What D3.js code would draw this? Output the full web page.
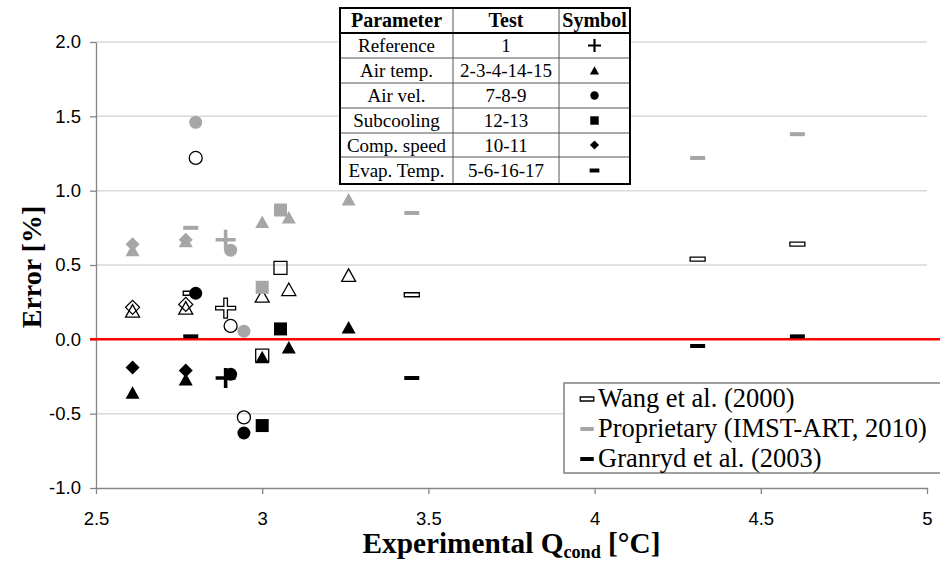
<!DOCTYPE html>
<html>
<head>
<meta charset="utf-8">
<script src="https://cdn.jsdelivr.net/npm/d3@7"></script>
<style>
  body { margin: 0; background: #fff; }
  svg { display: block; }
</style>
</head>
<body>
<div id="chart-area"></div>
<script>
// table contents
var parameters = ["Reference", "Air temp.", "Air vel.", "Subcooling", "Comp. speed", "Evap. Temp."];
var testLabels = ["1", "2-3-4-14-15", "7-8-9", "12-13", "10-11", "5-6-16-17"];
var paramSymbols = ["plus", "triangle", "circle", "square", "diamond", "dash"];

// one entry per test
var pointSymbol = ["plus",
  "triangle", "triangle", "triangle", "triangle", "triangle",
  "circle", "circle", "circle",
  "square", "square",
  "diamond", "diamond",
  "dash", "dash", "dash", "dash"];
var qcond = [2.89, 2.61, 2.77, 3.00, 3.08, 3.26, 2.80, 2.905, 2.945, 3.00, 3.055, 2.61, 2.77, 2.785, 3.45, 4.31, 4.61];
var errWang = [0.21, 0.19, 0.21, 0.29, 0.335, 0.43, 1.22, 0.09, -0.525, -0.11, 0.48, 0.215, 0.235, 0.31, 0.30, 0.54, 0.64];
var errProp = [0.67, 0.60, 0.66, 0.79, 0.82, 0.94, 1.46, 0.60, 0.055, 0.35, 0.87, 0.64, 0.67, 0.75, 0.85, 1.22, 1.38];
var errGranryd = [-0.26, -0.36, -0.27, -0.12, -0.055, 0.08, 0.31, -0.235, -0.63, -0.58, 0.07, -0.19, -0.21, 0.02, -0.26, -0.045, 0.02];

var models = ["Wang et al. (2000)", "Proprietary (IMST-ART, 2010)", "Granryd et al. (2003)"];
var xTicks = [2.5, 3, 3.5, 4, 4.5, 5];
var xTickLabels = ["2.5", "3", "3.5", "4", "4.5", "5"];
var yTicks = [-1, -0.5, 0, 0.5, 1, 1.5, 2];
var yTickLabels = ["-1.0", "-0.5", "0.0", "0.5", "1.0", "1.5", "2.0"];

var W = 940, H = 563;
var margin = {top: 42, right: 13, bottom: 75, left: 96};
var pWidth = W - margin.left - margin.right;
var pHeight = H - margin.top - margin.bottom;

var svg = d3.select("#chart-area").append("svg")
  .attr("width", W).attr("height", H);

var x = d3.scaleLinear().domain([2.5, 5]).range([margin.left, margin.left + pWidth]);
var y = d3.scaleLinear().domain([-1, 2]).range([margin.top + pHeight, margin.top]);

var serif = "'Liberation Serif', 'Times New Roman', serif";
var sans = "'Liberation Sans', Arial, sans-serif";

// marker shapes, centred on 0,0
function shape(name, s, arm) {
  var k = s || 1;
  if (name == "circle") return d3.symbol(d3.symbolCircle, Math.PI * 6.5 * 6.5 * k * k)();
  if (name == "triangle") return "M0," + (-6.5 * k) + "L" + (7 * k) + "," + (6 * k) + "L" + (-7 * k) + "," + (6 * k) + "Z";
  if (name == "square") return "M" + (-6.5 * k) + "," + (-6.5 * k) + "h" + (13 * k) + "v" + (13 * k) + "h" + (-13 * k) + "Z";
  if (name == "diamond") return "M0," + (-7 * k) + "L" + (7 * k) + ",0L0," + (7 * k) + "L" + (-7 * k) + ",0Z";
  if (name == "dash") return "M" + (-7.5 * k) + ",-2h" + (15 * k) + "v4h" + (-15 * k) + "Z";
  if (name == "plus") {
    var a = 10 * k, t = arm || 1.8;
    return "M" + (-t) + "," + (-a) + "H" + t + "V" + (-t) + "H" + a + "V" + t + "H" + t + "V" + a +
      "H" + (-t) + "V" + t + "H" + (-a) + "V" + (-t) + "H" + (-t) + "Z";
  }
}

var styles = [
  {fill: "none", stroke: "#000", sw: 1.3},
  {fill: "#a6a6a6", stroke: "none", sw: 0},
  {fill: "#000", stroke: "none", sw: 0}
];

// gridlines
svg.append("g").selectAll("line")
  .data(yTicks.slice(1))
  .enter().append("line")
    .attr("x1", margin.left).attr("x2", margin.left + pWidth)
    .attr("y1", function(d) { return y(d); }).attr("y2", function(d) { return y(d); })
    .attr("stroke", "#d9d9d9").attr("stroke-width", 1.5);

// axes
var xAxisGroup = svg.append("g")
  .attr("transform", "translate(0," + (margin.top + pHeight) + ")")
  .call(d3.axisBottom(x).tickValues(xTicks).tickSize(6).tickSizeOuter(0)
    .tickFormat(function(d, i) { return xTickLabels[i]; }));
var yAxisGroup = svg.append("g")
  .attr("transform", "translate(" + margin.left + ",0)")
  .call(d3.axisLeft(y).tickValues(yTicks).tickSize(6).tickSizeOuter(0)
    .tickFormat(function(d, i) { return yTickLabels[i]; }));

[xAxisGroup, yAxisGroup].forEach(function(g) {
  g.selectAll("path, line").attr("stroke", "#868686").attr("stroke-width", 1.3);
  g.selectAll("text").attr("font-family", sans).attr("font-size", "18.5px").attr("fill", "#000");
});
xAxisGroup.selectAll("text").attr("y", 37).attr("dy", 0);
yAxisGroup.selectAll("text").attr("x", -15);

// zero line
svg.append("line")
  .attr("x1", margin.left - 6).attr("x2", W)
  .attr("y1", y(0)).attr("y2", y(0))
  .attr("stroke", "#ff0000").attr("stroke-width", 2.5);

// points: one layer per model
[errWang, errProp, errGranryd].forEach(function(errs, m) {
  svg.append("g").selectAll("path")
    .data(errs)
    .enter().append("path")
      .attr("d", function(d, i) { return shape(pointSymbol[i]); })
      .attr("transform", function(d, i) { return "translate(" + x(qcond[i]) + "," + y(d) + ")"; })
      .attr("fill", function(d, i) { return (m == 0 && pointSymbol[i] == "dash") ? "#fff" : styles[m].fill; })
      .attr("stroke", styles[m].stroke)
      .attr("stroke-width", styles[m].sw);
});

// axis titles
svg.append("text")
  .attr("transform", "translate(41,267) rotate(-90)")
  .attr("text-anchor", "middle")
  .attr("font-family", serif).attr("font-weight", "bold").attr("font-size", "28px")
  .text("Error [%]");

var xTitle = svg.append("text")
  .attr("x", margin.left + pWidth / 2).attr("y", 553)
  .attr("text-anchor", "middle")
  .attr("textLength", 298).attr("lengthAdjust", "spacingAndGlyphs")
  .attr("font-family", serif).attr("font-weight", "bold").attr("font-size", "29px");
xTitle.append("tspan").text("Experimental Q");
xTitle.append("tspan").attr("font-size", "18px").attr("dy", 5).text("cond");
xTitle.append("tspan").attr("dy", -5).text(" [°C]");

// parameter table
var table = svg.append("g");
var colX = [340, 453, 559, 630];
var rowY = [8, 33, 58, 83, 108, 133, 157, 184];
table.append("rect")
  .attr("x", colX[0]).attr("y", rowY[0])
  .attr("width", colX[3] - colX[0]).attr("height", rowY[7] - rowY[0])
  .attr("fill", "#fff");
rowY.slice(2, 7).forEach(function(r) {
  table.append("line").attr("x1", colX[0]).attr("x2", colX[3]).attr("y1", r).attr("y2", r)
    .attr("stroke", "#555").attr("stroke-width", 1);
});
colX.slice(1, 3).forEach(function(c) {
  table.append("line").attr("x1", c).attr("x2", c).attr("y1", rowY[0]).attr("y2", rowY[7])
    .attr("stroke", "#555").attr("stroke-width", 1);
});
table.append("line").attr("x1", colX[0]).attr("x2", colX[3]).attr("y1", rowY[1]).attr("y2", rowY[1])
  .attr("stroke", "#000").attr("stroke-width", 2);
table.append("rect")
  .attr("x", colX[0]).attr("y", rowY[0])
  .attr("width", colX[3] - colX[0]).attr("height", rowY[7] - rowY[0])
  .attr("fill", "none").attr("stroke", "#000").attr("stroke-width", 2);

var header = ["Parameter", "Test", "Symbol"];
header.forEach(function(h, i) {
  table.append("text")
    .attr("x", (colX[i] + colX[i + 1]) / 2).attr("y", (rowY[0] + rowY[1]) / 2 + 6.5)
    .attr("text-anchor", "middle")
    .attr("font-family", serif).attr("font-weight", "bold").attr("font-size", "20px")
    .text(h);
});
parameters.forEach(function(p, i) {
  var cy = (rowY[i + 1] + rowY[i + 2]) / 2;
  table.append("text")
    .attr("x", (colX[0] + colX[1]) / 2).attr("y", cy + 6.5)
    .attr("text-anchor", "middle").attr("font-family", serif).attr("font-size", "19px")
    .text(p);
  table.append("text")
    .attr("x", (colX[1] + colX[2]) / 2).attr("y", cy + 6.5)
    .attr("text-anchor", "middle").attr("font-family", serif).attr("font-size", "19px")
    .text(testLabels[i]);
  table.append("path")
    .attr("d", shape(paramSymbols[i], 0.65, 1.1))
    .attr("transform", "translate(" + ((colX[2] + colX[3]) / 2) + "," + cy + ")")
    .attr("fill", "#000");
});

// model legend
var legend = svg.append("g");
legend.append("rect")
  .attr("x", 564).attr("y", 383).attr("width", 390).attr("height", 90)
  .attr("fill", "#fff").attr("stroke", "#808080").attr("stroke-width", 1.5);
models.forEach(function(name, m) {
  var ly = 399 + m * 30;
  legend.append("path")
    .attr("d", shape("dash", 0.9))
    .attr("transform", "translate(587," + ly + ")")
    .attr("fill", m == 0 ? "#fff" : styles[m].fill)
    .attr("stroke", styles[m].stroke).attr("stroke-width", styles[m].sw);
  legend.append("text")
    .attr("x", 598).attr("y", ly + 8)
    .attr("font-family", serif).attr("font-size", "26.5px")
    .text(name);
});
</script>
</body>
</html>
